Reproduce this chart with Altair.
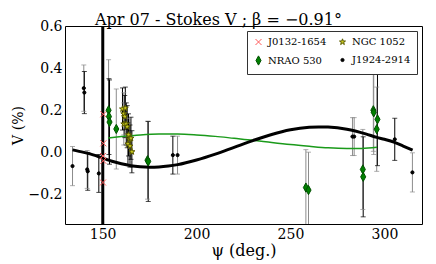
import altair as alt
import pandas as pd

# ---------------- data ----------------
# J1924-2914 (black dots)
j1924_psi = [134.0, 140.0, 140.3, 141.8, 142.1, 148.0, 187.4, 189.9, 283.0, 283.9, 305.5, 314.9]
j1924_v   = [-0.065, 0.305, 0.284, -0.081, -0.090, -0.100, -0.013, -0.013, 0.075, 0.075, 0.062, -0.095]
j1924_err = [0.093, 0.11, 0.10, 0.09, 0.09, 0.09, 0.09, 0.09, 0.09, 0.09, 0.10, 0.093]
j1924_bar = ["gray", "gray", "black", "gray", "black", "black", "black", "gray", "gray", "gray", "black", "gray"]

# NRAO 530 (green diamonds)
nrao_psi = [153.2, 153.4, 153.7, 157.3, 173.9, 174.3, 258.2, 259.6, 288.5, 288.7, 294.1, 294.3, 296.3, 295.9]
nrao_v   = [0.200, 0.170, 0.144, 0.111, -0.037, -0.043, -0.167, -0.179, -0.081, -0.116, 0.200, 0.190, 0.157, 0.110]
nrao_err = [0.24, 0.18, 0.20, 0.19, 0.185, 0.19, 0.18, 0.18, 0.19, 0.19, 0.195, 0.20, 0.22, 0.20]
nrao_bar = ["gray", "black", "black", "gray", "gray", "black", "gray", "gray", "gray", "black", "gray", "gray", "black", "gray"]

# NGC 1052 (yellow stars)
ngc_psi = [160.6, 161.3, 162.1, 161.8, 161.3, 162.6, 163.1, 163.8, 164.4, 165.1, 163.5, 164.6, 165.6]
ngc_v   = [0.206, 0.183, 0.210, 0.170, 0.135, 0.135, 0.122, 0.083, 0.062, 0.067, 0.040, 0.030, 0.003]
ngc_err = [0.10, 0.10, 0.10, 0.10, 0.10, 0.10, 0.10, 0.10, 0.10, 0.10, 0.10, 0.10, 0.10]
ngc_bar = ["black", "gray", "black", "black", "gray", "black", "black", "black", "gray", "black", "black", "black", "black"]

# J0132-1654 (red crosses) and its very large error bar
j0132_psi = [150.4, 150.4, 150.2, 150.4, 150.2]
j0132_v   = [0.181, 0.043, -0.017, -0.040, -0.143]
j0132_bar_psi = [150.1]
j0132_bar_lo = [-1.0]
j0132_bar_hi = [1.0]

# model curves
black_psi = [134, 140, 145, 150, 155, 160, 165, 170, 175, 180, 185, 190, 200, 210, 220, 230,
             240, 250, 260, 265, 270, 280, 290, 296, 300, 305, 310, 315]
black_v   = [0.012, 0.000, -0.012, -0.027, -0.042, -0.054, -0.063, -0.068, -0.070, -0.069, -0.065,
             -0.058, -0.036, -0.008, 0.024, 0.056, 0.085, 0.107, 0.119, 0.121, 0.120, 0.110, 0.088,
             0.071, 0.062, 0.049, 0.030, 0.011]
green_psi = [153, 160, 170, 180, 185, 190, 200, 210, 220, 230, 240, 250, 260, 270, 280, 288, 296]
green_v   = [0.068, 0.075, 0.083, 0.087, 0.087, 0.087, 0.083, 0.076, 0.067, 0.058, 0.047, 0.037,
             0.029, 0.022, 0.019, 0.019, 0.024]

series = ["J0132-1654", "NGC 1052", "NRAO 530", "J1924-2914"]
x_ticks = [150, 200, 250, 300]
y_ticks = [-0.2, 0.0, 0.2, 0.4, 0.6]
title_text = "Apr 07 - Stokes V ; β = −0.91°"

# ---------------- tables ----------------
pts = pd.concat([
    pd.DataFrame({"psi": j0132_psi, "v": j0132_v, "err": [0.0] * len(j0132_psi),
                  "bar": ["none"] * len(j0132_psi), "src": "J0132-1654"}),
    pd.DataFrame({"psi": ngc_psi, "v": ngc_v, "err": ngc_err, "bar": ngc_bar, "src": "NGC 1052"}),
    pd.DataFrame({"psi": nrao_psi, "v": nrao_v, "err": nrao_err, "bar": nrao_bar, "src": "NRAO 530"}),
    pd.DataFrame({"psi": j1924_psi, "v": j1924_v, "err": j1924_err, "bar": j1924_bar, "src": "J1924-2914"}),
], ignore_index=True)
pts["lo"] = pts["v"] - pts["err"]
pts["hi"] = pts["v"] + pts["err"]
bars = pts[pts["bar"] != "none"]

big = pd.DataFrame({"psi": j0132_bar_psi, "lo": j0132_bar_lo, "hi": j0132_bar_hi})
black_df = pd.DataFrame({"psi": black_psi, "v": black_v})
green_df = pd.DataFrame({"psi": green_psi, "v": green_v})

W, H = 357, 198
FONT = "DejaVu Serif"
xs = alt.Scale(domain=[130, 320], nice=False, zero=False)
ys = alt.Scale(domain=[-0.34, 0.6], nice=False, zero=False)

main_x = alt.Axis(values=x_ticks, tickSize=0, labelPadding=3, labelFontSize=14,
                  title="ψ (deg.)", titleFontSize=16, titlePadding=1, grid=False, domain=False)
main_y = alt.Axis(values=y_ticks, format=".1f", tickSize=0, labelPadding=3, labelFontSize=14,
                  title="V (%)", titleFontSize=14, titlePadding=3, grid=False, domain=False)
# top axis used only to carry the chart title (centred on the figure like the original)
title_x = alt.Axis(orient="top", values=x_ticks, tickSize=0, labels=False, domain=False, grid=False,
                   title=title_text, titleFontSize=16, titleX=153, titleY=1, titleAlign="center",
                   titleBaseline="bottom", titleAnchor="start")

bar_color = alt.Color("bar:N", scale=alt.Scale(domain=["gray", "black"], range=["#8c8c8c", "#000000"]),
                      legend=None)

err_rules = alt.Chart(bars).mark_rule(clip=True, strokeWidth=1).encode(
    x=alt.X("psi:Q", scale=xs, axis=main_x),
    y=alt.Y("lo:Q", scale=ys, axis=main_y),
    y2="hi:Q",
    color=bar_color,
)
cap_lo = alt.Chart(bars).mark_tick(clip=True, orient="horizontal", size=5, thickness=1).encode(
    x=alt.X("psi:Q", scale=xs, axis=None), y=alt.Y("lo:Q", scale=ys), color=bar_color)
cap_hi = alt.Chart(bars).mark_tick(clip=True, orient="horizontal", size=5, thickness=1).encode(
    x=alt.X("psi:Q", scale=xs, axis=None), y=alt.Y("hi:Q", scale=ys), color=bar_color)

big_rule = alt.Chart(big).mark_rule(clip=True, strokeWidth=3, color="#000").encode(
    x=alt.X("psi:Q", scale=xs, axis=None), y=alt.Y("lo:Q", scale=ys), y2="hi:Q")

green_line = alt.Chart(green_df).mark_line(clip=True, color="#1a9a1a", strokeWidth=1.5,
                                           interpolate="monotone").encode(
    x=alt.X("psi:Q", scale=xs, axis=None), y=alt.Y("v:Q", scale=ys))
black_line = alt.Chart(black_df).mark_line(clip=True, color="#000", strokeWidth=3,
                                           interpolate="monotone").encode(
    x=alt.X("psi:Q", scale=xs, axis=title_x), y=alt.Y("v:Q", scale=ys))

x_path = "M-1,-1L1,1M-1,1L1,-1"
star_path = ("M0,-1L0.24,-0.33L0.95,-0.31L0.38,0.12L0.59,0.81L0,0.4L-0.59,0.81L-0.38,0.12"
             "L-0.95,-0.31L-0.24,-0.33Z")
diamond_path = "M0,-1L0.55,0L0,1L-0.55,0Z"

legend = alt.Legend(title=None, orient="top-right", columns=2, direction="horizontal")

points = alt.Chart(pts).mark_point(clip=True, filled=False, strokeWidth=1, opacity=1).encode(
    x=alt.X("psi:Q", scale=xs, axis=None),
    y=alt.Y("v:Q", scale=ys),
    shape=alt.Shape("src:N", scale=alt.Scale(domain=series,
                                             range=[x_path, star_path, diamond_path, "circle"]),
                    legend=legend),
    fill=alt.Fill("src:N", scale=alt.Scale(domain=series,
                                           range=["transparent", "#c8c81e", "#008000", "#000000"]),
                  legend=legend),
    stroke=alt.Stroke("src:N", scale=alt.Scale(domain=series,
                                               range=["#ff5a5a", "#5a5a00", "#005000", "#000000"]),
                      legend=legend),
    size=alt.Size("src:N", scale=alt.Scale(type="ordinal", domain=series, range=[36, 40, 85, 10]),
                  legend=legend),
)

chart = alt.layer(err_rules, cap_lo, cap_hi, big_rule, green_line, black_line, points).resolve_axis(
    x="independent"
).properties(
    width=W, height=H,
    background="#fff",
    autosize=alt.AutoSizeParams(type="none"),
    padding={"left": 57, "top": 18, "right": 5, "bottom": 40},
).configure_view(stroke="#000", strokeWidth=1).configure_axis(
    labelFont=FONT, titleFont=FONT, labelColor="#000", titleColor="#000", titleFontWeight="normal"
).configure_legend(
    labelFont=FONT, labelFontSize=10, labelColor="#000", strokeColor="#333", fillColor="#fff",
    padding=6, columnPadding=10, rowPadding=6, symbolStrokeWidth=1, offset=5
)

chart.save("out.html", embed_options={"renderer": "svg", "actions": False})
